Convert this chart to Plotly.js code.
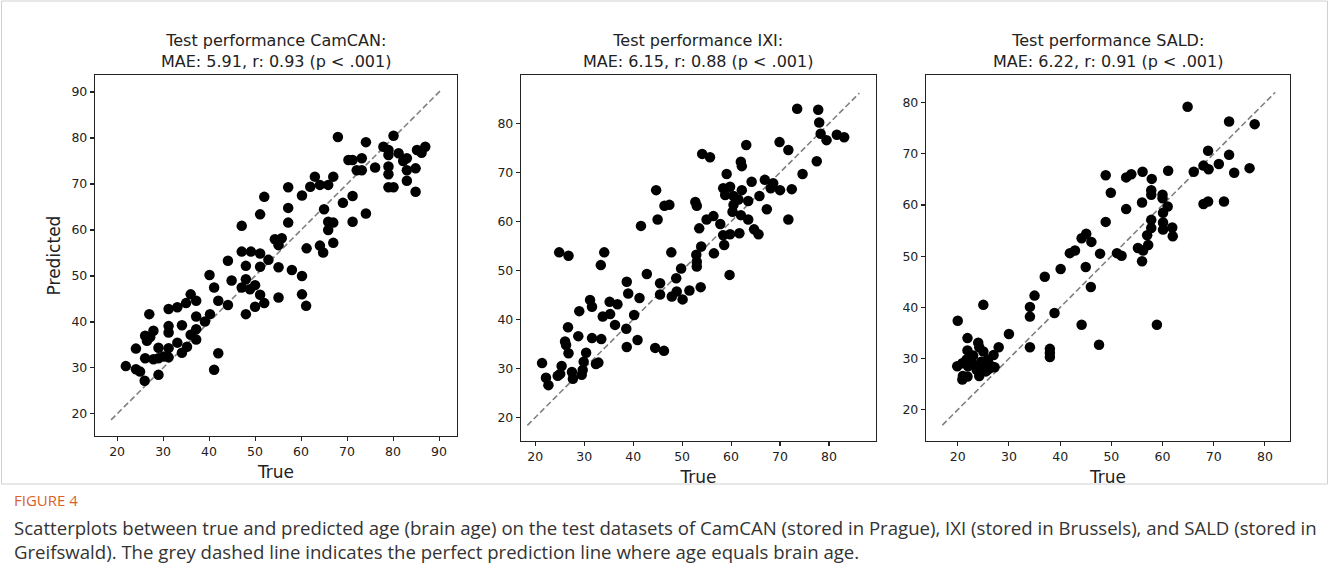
<!DOCTYPE html>
<html>
<head>
<meta charset="utf-8">
<script src="https://cdn.plot.ly/plotly-3.0.1.min.js"></script>
<style>html,body{margin:0;padding:0;background:#fff}#chart{width:1329px;height:586px}</style>
</head>
<body>
<div id="chart"></div>
<script>
// ---- CamCAN ----
const camcanTrue = [21.9,24.1,24.1,25.0,26.0,27.0,26.1,26.5,27.2,27.9,26.1,27.9,29.0,29.0,29.0,30.1,31.2,31.2,31.2,31.2,31.2,33.1,33.1,34.1,34.1,35.0,35.2,36.0,36.0,37.2,37.2,37.2,37.2,39.1,40.1,40.2,41.1,41.1,42.0,42.0,44.1,44.1,44.9,47.1,48.0,48.0,48.0,47.1,48.9,49.1,50.0,50.0,51.1,51.1,51.1,52.0,52.9,52.0,51.1,47.1,68.0,74.1,80.1,77.9,79.0,81.2,79.0,83.0,85.2,87.0,86.2,82.2,70.3,71.2,73.2,72.1,73.2,76.1,79.0,79.0,83.0,84.9,83.0,79.0,80.1,84.9,63.0,67.0,64.1,65.9,62.0,57.2,60.2,71.2,69.1,57.2,65.0,74.1,57.2,65.9,67.0,71.2,65.9,54.3,55.8,55.1,61.2,64.1,64.8,67.0,55.1,58.0,60.2,55.1,60.2,61.1];
const camcanPred = [30.4,34.2,29.7,29.2,27.2,41.7,37.0,35.9,36.7,38.1,32.1,31.9,34.4,32.1,28.5,32.5,42.8,39.1,37.7,34.3,32.3,43.2,35.5,39.3,33.3,44.1,34.6,46.0,37.2,44.6,41.2,38.4,36.2,40.1,50.2,41.7,47.5,29.6,44.6,33.2,53.3,43.7,49.0,55.3,52.2,49.3,41.7,47.5,47.1,55.3,48.0,43.3,54.9,52.0,45.9,44.1,53.5,67.2,63.4,60.9,80.2,79.1,80.5,78.1,77.4,76.7,76.3,75.6,77.4,78.1,76.8,75.0,75.2,75.2,75.6,73.0,73.0,73.6,73.8,72.1,73.0,73.4,70.7,69.3,69.3,68.3,71.6,71.6,69.8,69.8,69.4,69.3,67.5,67.4,65.9,64.8,64.5,63.6,61.6,61.8,61.6,61.8,60.0,58.0,58.2,56.7,56.0,56.6,55.1,57.2,51.9,51.3,50.0,45.3,46.0,43.5];
const camcanLine = [18.7, 90.3];

// ---- IXI ----
const ixiTrue = [54.1,55.7,44.7,46.4,47.4,52.7,53.0,45.0,41.6,55.0,53.5,24.9,26.8,34.1,47.8,53.9,52.9,73.5,77.8,78.0,78.3,79.5,81.6,83.1,77.5,69.9,71.7,74.6,63.1,62.0,62.2,59.1,64.2,66.9,68.6,68.1,70.0,72.4,58.4,59.8,62.2,58.8,60.5,61.5,63.5,65.8,60.5,60.3,62.0,67.3,63.5,71.7,56.4,57.8,64.7,65.6,58.4,59.8,61.7,58.6,56.5,33.4,53.0,53.0,49.8,42.8,38.7,45.5,48.8,39.0,41.3,45.5,47.9,48.9,50.1,51.5,53.8,31.2,31.6,35.2,36.8,29.0,33.8,35.3,40.2,36.3,38.6,26.7,28.8,31.6,33.5,40.9,26.1,26.3,38.7,44.5,46.3,26.8,30.4,21.4,25.4,29.9,32.4,32.9,25.1,27.5,29.5,27.7,22.2,22.7,29.7,24.6,59.7];
const ixiPred = [73.8,73.1,66.4,63.2,63.4,64.0,63.2,60.4,59.1,60.4,58.6,53.7,53.0,53.7,53.7,54.9,53.2,83.0,82.8,80.2,77.9,76.6,77.7,77.2,72.3,76.2,74.6,69.7,75.6,72.2,71.3,69.7,68.1,68.5,67.8,66.8,66.4,66.6,66.8,67.1,66.4,65.4,65.2,64.5,64.2,65.2,63.4,62.0,61.3,62.5,60.4,60.4,61.1,59.5,58.4,57.4,57.2,57.4,57.6,55.2,53.5,51.1,51.8,50.8,50.4,49.3,47.7,47.4,48.4,45.3,44.4,45.1,44.7,45.7,44.1,45.9,46.6,44.0,42.6,43.6,43.1,41.7,40.6,41.1,40.9,38.9,38.1,38.4,36.6,36.2,36.0,35.8,35.5,34.8,34.4,34.2,33.6,33.1,33.2,31.1,30.5,31.4,30.9,31.2,28.9,29.3,28.7,27.9,28.1,26.6,29.7,28.5,49.1];
const ixiLine = [18.4, 86.2];

// ---- SALD ----
const saldTrue = [37.0,40.1,41.9,42.9,44.2,45.1,46.1,45.0,47.8,64.9,73.0,78.0,68.9,73.0,71.0,68.0,69.0,66.1,74.0,77.0,68.0,68.9,72.0,61.1,48.9,52.9,53.9,56.1,57.9,49.9,57.8,57.8,60.0,60.0,56.0,52.9,61.0,60.1,57.8,60.1,48.9,57.8,60.1,61.9,62.0,57.0,57.2,55.2,56.2,51.1,52.0,56.0,20.0,25.0,34.1,35.0,34.1,38.9,30.0,34.1,38.0,38.0,38.0,44.2,46.0,47.6,21.9,21.9,24.0,24.2,25.0,23.0,27.0,28.0,19.9,20.9,21.7,22.0,22.9,23.8,24.6,25.9,26.6,27.2,21.0,20.9,21.9,24.2,25.0,25.5,26.1,23.7,58.9];
const saldPred = [46.0,47.5,50.6,51.1,53.5,54.4,52.8,47.9,50.5,79.2,76.3,75.8,70.6,69.8,68.0,67.7,67.0,66.5,66.3,67.2,60.2,60.7,60.7,66.7,65.8,65.4,66.0,66.5,65.1,62.4,62.9,62.0,62.0,61.3,60.5,59.2,59.7,58.5,57.1,56.6,56.7,55.5,55.2,55.6,53.9,54.1,52.2,51.6,51.1,50.6,50.1,49.0,37.4,40.5,40.1,42.3,38.2,38.9,34.8,32.2,31.9,31.1,30.3,36.6,44.0,32.7,34.0,31.6,33.1,32.2,31.4,30.6,30.7,32.2,28.5,29.1,29.8,28.5,29.0,28.5,29.4,29.8,28.5,28.3,26.6,25.9,26.5,26.6,28.0,27.5,28.0,27.8,36.6];
const saldLine = [17.0, 82.0];

const panelTitles = [
  'Test performance CamCAN:<br>MAE: 5.91, r: 0.93 (p < .001)',
  'Test performance IXI:<br>MAE: 6.15, r: 0.88 (p < .001)',
  'Test performance SALD:<br>MAE: 6.22, r: 0.91 (p < .001)'
];
const ticks1 = [20,30,40,50,60,70,80,90];
const ticks23 = [20,30,40,50,60,70,80];
const xLabel = 'True';
const yLabel = 'Predicted';
const figLabel = 'FIGURE 4';
const captionLines = [
  'Scatterplots between true and predicted age (brain age) on the test datasets of CamCAN (stored in Prague), IXI (stored in Brussels), and SALD (stored in',
  'Greifswald). The grey dashed line indicates the perfect prediction line where age equals brain age.'
];

const W = 1329, H = 586;
const FONT = 'DejaVu Sans, sans-serif';
// panel pixel boxes [left, right, top, bottom]
const boxes = [[95,457,75,436],[521,876,75,441],[926,1290,75,441]];
const ranges = [
  {x:[15.2,93.9], y:[15.2,93.7], t:ticks1},
  {x:[17.1,89.6], y:[15.2,89.9], t:ticks23},
  {x:[13.8,84.9], y:[13.9,85.4], t:ticks23}
];
const sets = [[camcanTrue,camcanPred,camcanLine],[ixiTrue,ixiPred,ixiLine],[saldTrue,saldPred,saldLine]];

const data = [];
const layout = {
  width: W, height: H, margin:{l:0,r:0,t:0,b:0}, showlegend:false,
  paper_bgcolor:'#fff', plot_bgcolor:'#fff', font:{family:FONT,color:'#222'},
  annotations:[], shapes:[]
};
sets.forEach((s,i)=>{
  const sfx = i===0 ? '' : String(i+1);
  data.push({x:s[2], y:s[2], mode:'lines', type:'scatter', xaxis:'x'+sfx, yaxis:'y'+sfx,
    line:{color:'#808080', width:1.6, dash:'6px,3px'}, hoverinfo:'skip'});
  data.push({x:s[0], y:s[1], mode:'markers', type:'scatter', xaxis:'x'+sfx, yaxis:'y'+sfx,
    marker:{color:'#000', size:10.5, line:{width:0}}});
  const b = boxes[i];
  const axCommon = {showgrid:false, zeroline:false, showline:true, mirror:true, linecolor:'#222', linewidth:1.2,
    ticks:'outside', ticklen:4, tickwidth:1.1, tickcolor:'#222', tickfont:{family:FONT,size:12.5,color:'#222'},
    tickmode:'array', tickvals:ranges[i].t, automargin:false};
  layout['xaxis'+sfx] = Object.assign({}, axCommon, {domain:[b[0]/W, b[1]/W], range:ranges[i].x, anchor:'y'+sfx,
    title:{text:xLabel, font:{family:FONT,size:17,color:'#222'}, standoff:7}});
  layout['yaxis'+sfx] = Object.assign({}, axCommon, {domain:[1-b[3]/H, 1-b[2]/H], range:ranges[i].y, anchor:'x'+sfx,
    title: i===0 ? {text:yLabel, font:{family:FONT,size:17,color:'#222'}, standoff:6} : {text:''}});
  layout.annotations.push({xref:'paper', yref:'paper', x:(b[0]+b[1])/2/W, y:1-(b[2]-2)/H, xanchor:'center', yanchor:'bottom',
    text:panelTitles[i], showarrow:false, font:{family:FONT,size:16,color:'#222'}});
});
layout.annotations.push({xref:'paper', yref:'paper', x:12/W, y:1-500/H, xanchor:'left', yanchor:'middle',
  text:figLabel, showarrow:false, font:{family:'Open Sans, sans-serif', size:15, color:'#d9622b'}});
captionLines.forEach((t,k)=>{
  layout.annotations.push({xref:'paper', yref:'paper', x:12/W, y:1-(527+24*k)/H, xanchor:'left', yanchor:'middle',
    text:t, showarrow:false, font:{family:'Open Sans, sans-serif', size:18.6, color:'#333'}});
});
layout.shapes.push({type:'rect', xref:'paper', yref:'paper', x0:1.5/W, x1:1-1.5/W, y0:1-484/H, y1:1-1/H,
  line:{color:'#d0d0d0', width:1}, layer:'below'});

Plotly.newPlot('chart', data, layout, {displayModeBar:false, staticPlot:true});
</script>
</body>
</html>
